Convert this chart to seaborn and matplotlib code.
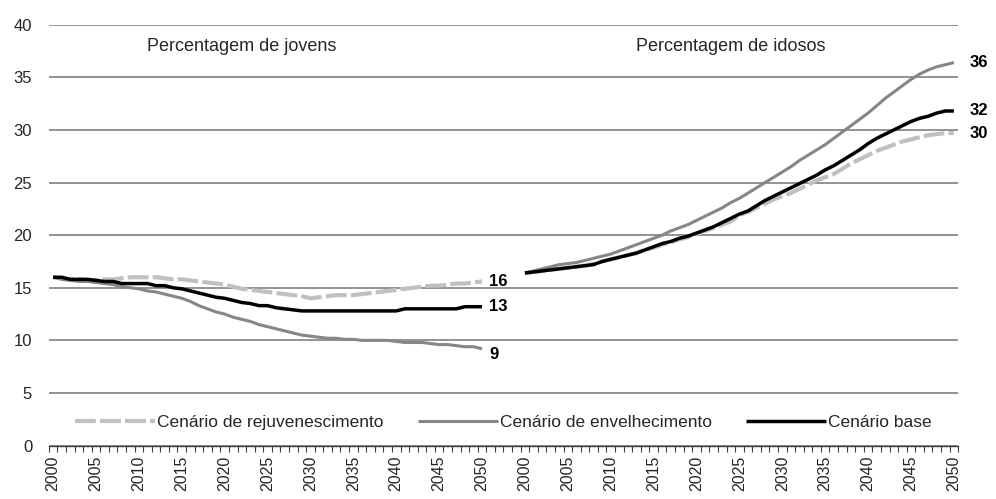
import numpy as np
import pandas as pd
import matplotlib
matplotlib.use("Agg")
import matplotlib.pyplot as plt
import seaborn as sns

# --- data -----------------------------------------------------------------
years = list(range(2000, 2051))
gap = 4  # blank categories between the two panels

jovens_rejuv = [16.0, 15.9, 15.8, 15.8, 15.7, 15.7, 15.8, 15.8, 15.9, 16.0,
                16.0, 16.0, 16.0, 15.9, 15.8, 15.8, 15.7, 15.6, 15.5, 15.4,
                15.3, 15.1, 14.9, 14.8, 14.7, 14.6, 14.5, 14.4, 14.3, 14.2,
                14.0, 14.1, 14.2, 14.3, 14.3, 14.3, 14.4, 14.5, 14.6, 14.7,
                14.8, 14.9, 15.0, 15.1, 15.2, 15.2, 15.3, 15.4, 15.4, 15.5,
                15.6]
jovens_envelh = [16.0, 15.8, 15.7, 15.6, 15.6, 15.5, 15.4, 15.3, 15.1, 15.0,
                 14.9, 14.7, 14.6, 14.4, 14.2, 14.0, 13.7, 13.3, 13.0, 12.7,
                 12.5, 12.2, 12.0, 11.8, 11.5, 11.3, 11.1, 10.9, 10.7, 10.5,
                 10.4, 10.3, 10.2, 10.2, 10.1, 10.1, 10.0, 10.0, 10.0, 10.0,
                 9.9, 9.8, 9.8, 9.8, 9.7, 9.6, 9.6, 9.5, 9.4, 9.4,
                 9.2]
jovens_base = [16.0, 16.0, 15.8, 15.8, 15.8, 15.7, 15.6, 15.6, 15.4, 15.4,
               15.4, 15.4, 15.2, 15.2, 15.0, 14.9, 14.7, 14.5, 14.3, 14.1,
               14.0, 13.8, 13.6, 13.5, 13.3, 13.3, 13.1, 13.0, 12.9, 12.8,
               12.8, 12.8, 12.8, 12.8, 12.8, 12.8, 12.8, 12.8, 12.8, 12.8,
               12.8, 13.0, 13.0, 13.0, 13.0, 13.0, 13.0, 13.0, 13.2, 13.2,
               13.2]

idosos_rejuv = [16.4, 16.5, 16.6, 16.7, 16.8, 16.9, 17.0, 17.1, 17.3, 17.5,
                17.7, 17.9, 18.1, 18.3, 18.6, 18.8, 19.1, 19.3, 19.6, 19.8,
                20.1, 20.4, 20.7, 21.0, 21.3, 21.9, 22.2, 22.6, 23.0, 23.4,
                23.7, 24.0, 24.4, 24.8, 25.2, 25.5, 25.8, 26.3, 26.8, 27.2,
                27.6, 28.0, 28.3, 28.6, 28.9, 29.1, 29.3, 29.5, 29.6, 29.7,
                29.7]
idosos_envelh = [16.4, 16.6, 16.8, 17.0, 17.2, 17.3, 17.4, 17.6, 17.8, 18.0,
                 18.2, 18.5, 18.8, 19.1, 19.4, 19.7, 20.0, 20.4, 20.7, 21.0,
                 21.4, 21.8, 22.2, 22.6, 23.1, 23.5, 24.0, 24.5, 25.0, 25.5,
                 26.0, 26.5, 27.1, 27.6, 28.1, 28.6, 29.2, 29.8, 30.4, 31.0,
                 31.6, 32.3, 33.0, 33.6, 34.2, 34.8, 35.3, 35.7, 36.0, 36.2,
                 36.4]
idosos_base = [16.4, 16.5, 16.6, 16.7, 16.8, 16.9, 17.0, 17.1, 17.2, 17.5,
               17.7, 17.9, 18.1, 18.3, 18.6, 18.9, 19.2, 19.4, 19.7, 19.9,
               20.2, 20.5, 20.8, 21.2, 21.6, 22.0, 22.3, 22.8, 23.3, 23.7,
               24.1, 24.5, 24.9, 25.3, 25.7, 26.2, 26.6, 27.1, 27.6, 28.1,
               28.7, 29.2, 29.6, 30.0, 30.4, 30.8, 31.1, 31.3, 31.6, 31.8,
               31.8]

scenarios = ["Cenário de rejuvenescimento", "Cenário de envelhecimento", "Cenário base"]
panels = ["Percentagem de jovens", "Percentagem de idosos"]

categories = [str(y) for y in years] + [""] * gap + [str(y) for y in years]

# --- long table -----------------------------------------------------------
pos1 = list(range(len(years)))
pos2 = [p + len(years) + gap for p in pos1]
rows = []
for scen, v1, v2 in zip(scenarios,
                        [jovens_rejuv, jovens_envelh, jovens_base],
                        [idosos_rejuv, idosos_envelh, idosos_base]):
    for p, v in zip(pos1, v1):
        rows.append({"pos": p, "valor": v, "cenario": scen, "painel": "jovens"})
    for p, v in zip(pos2, v2):
        rows.append({"pos": p, "valor": v, "cenario": scen, "painel": "idosos"})
df = pd.DataFrame(rows)

styles = {
    "Cenário de rejuvenescimento": dict(color="#C0C0C0", lw=3.0, dashes=(5, 1)),
    "Cenário de envelhecimento": dict(color="#868686", lw=2.2, dashes=None),
    "Cenário base": dict(color="#000000", lw=2.5, dashes=None),
}

sns.set_theme(style="white")
plt.rcParams["font.family"] = ["Liberation Sans", "DejaVu Sans"]

fig = plt.figure(figsize=(9.96, 4.99), dpi=100)
ax = fig.add_axes([0.049, 0.107, 0.913, 0.8435])

for scen in scenarios:
    st = styles[scen]
    for k, painel in enumerate(["jovens", "idosos"]):
        sub = df[(df["cenario"] == scen) & (df["painel"] == painel)]
        sns.lineplot(data=sub, x="pos", y="valor", ax=ax,
                     color=st["color"], linewidth=st["lw"],
                     label=scen if k == 0 else None, legend=False)
        if st["dashes"]:
            ax.lines[-1].set_dashes(st["dashes"])
        ax.lines[-1].set_solid_capstyle("butt")

# end-of-series labels
for painel, vals in [("jovens", [jovens_rejuv, jovens_base, jovens_envelh]),
                     ("idosos", [idosos_envelh, idosos_base, idosos_rejuv])]:
    last_pos = pos1[-1] if painel == "jovens" else pos2[-1]
    labels = ["16", "13", "9"] if painel == "jovens" else ["36", "32", "30"]
    dx = 5 if painel == "jovens" else 11
    for lab, v in zip(labels, vals):
        dy = -4 if lab == "9" else 0
        ax.annotate(lab, xy=(last_pos, v[-1]), xytext=(dx, dy),
                    textcoords="offset points", ha="left", va="center",
                    fontsize=12, fontweight="bold", color="black")

# panel titles
ax.text(22, 37.9, panels[0], ha="center", va="center", fontsize=13)
ax.text(79, 37.9, panels[1], ha="center", va="center", fontsize=13)

# axes
ax.set_xlim(-0.5, len(categories) - 0.5)
ax.set_ylim(0, 40)
ax.set_yticks(range(0, 41, 5))
ax.yaxis.grid(True, color="#808080", linewidth=1.2)
ax.set_axisbelow(True)

major = [i for i, c in enumerate(categories) if c and int(c) % 5 == 0]
ax.set_xticks(major)
ax.set_xticklabels([categories[i] for i in major], rotation=90)
ax.set_xticks(np.arange(-0.5, len(categories)), minor=True)
ax.tick_params(axis="x", which="major", length=0, pad=7, labelsize=11.5)
ax.tick_params(axis="x", which="minor", length=4, width=0.8, color="#404040",
               direction="out", bottom=True)
ax.tick_params(axis="y", length=0, pad=12, labelsize=12)
ax.set_xlabel("")
ax.set_ylabel("")

for side in ["left", "right", "top"]:
    ax.spines[side].set_visible(False)
ax.spines["bottom"].set_color("#404040")
ax.spines["bottom"].set_linewidth(1.0)

ax.legend(loc="center", bbox_to_anchor=(0.5, 0.054), ncol=3,
          frameon=False, fontsize=12.5, handlelength=4.6,
          handletextpad=0.1, columnspacing=2.0)

fig.savefig("out.png", dpi=100)
